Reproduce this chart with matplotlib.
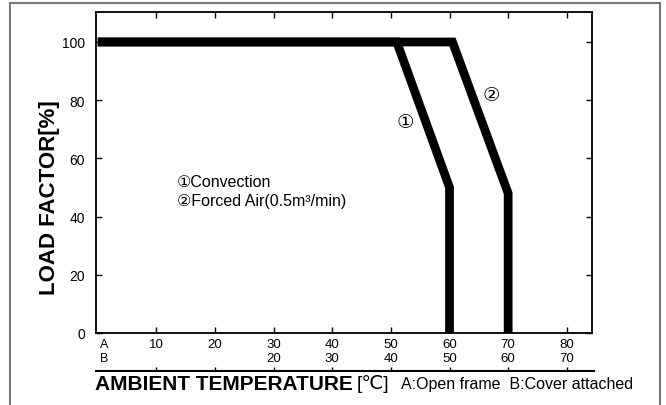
import matplotlib.pyplot as plt
from matplotlib.patches import Rectangle
from matplotlib.transforms import blended_transform_factory

# derating curves (ambient temp for A: open frame, load factor %)
conv_x = [0, 51, 60, 60]
conv_y = [100, 100, 50, 0]
forced_x = [0, 60.5, 70, 70]
forced_y = [100, 100, 48, 0]

a_ticks = [10, 20, 30, 40, 50, 60, 70, 80]
b_labels = ['', '', '20', '30', '40', '50', '60', '70']
y_ticks = [0, 20, 40, 60, 80, 100]

FONT = ['Liberation Sans', 'DejaVu Sans', 'Noto Sans CJK JP']

fig = plt.figure(figsize=(6.66, 4.06), dpi=100)
W, H = 666, 406
ax = fig.add_axes([96 / W, (H - 334) / H, (592 - 96) / W, (334 - 13) / H])

for xs, ys in [(conv_x, conv_y), (forced_x, forced_y)]:
    ax.plot(xs, ys, color='black', lw=6.3, solid_joinstyle='miter',
            solid_capstyle='butt')

ax.set_xlim(-0.3, 84.3)
ax.set_ylim(0, 110.3)
ax.set_yticks(y_ticks)
ax.set_yticklabels([str(v) for v in y_ticks], family=FONT, fontsize=10)
ax.set_xticks(a_ticks)
ax.set_xticklabels([])
ax.tick_params(direction='in', length=4, width=1, top=True, right=True,
               pad=8, colors='black')
for s in ax.spines.values():
    s.set_linewidth(1.3)

# two rows of temperature labels (A / B)
tr = blended_transform_factory(ax.transData, ax.transAxes)
row_a, row_b = -0.017, -0.058
ax.text(0.3, row_a, 'A', transform=tr, ha='left', va='top', fontsize=9, family=FONT)
ax.text(0.3, row_b, 'B', transform=tr, ha='left', va='top', fontsize=9, family=FONT)
for a, b in zip(a_ticks, b_labels):
    ax.text(a, row_a, str(a), transform=tr, ha='center', va='top', fontsize=9.5, family=FONT)
    if b:
        ax.text(a, row_b, b, transform=tr, ha='center', va='top', fontsize=9.5, family=FONT)

# second scale line under the labels
ax2 = fig.add_axes([96 / W, (H - 372) / H, (594 - 96) / W, 0.0001])
ax2.set_xlim(-0.3, 84.3 + 2 * 84.6 / 496)
ax2.set_xticks(a_ticks)
ax2.set_xticklabels([])
ax2.set_yticks([])
for k in ['top', 'left', 'right']:
    ax2.spines[k].set_visible(False)
ax2.spines['bottom'].set_linewidth(1.5)
ax2.tick_params(axis='x', direction='out', length=3, width=1, bottom=False, top=True)
ax2.patch.set_visible(False)

# notes and curve numbers
ax.text(13.5, 52.2, '①Convection', fontsize=11.5, family=FONT, va='center')
ax.text(13.5, 45.6, '②Forced Air(0.5m³/min)', fontsize=11.5, family=FONT, va='center')
ax.text(52.5, 72.5, '①', fontsize=14, family=FONT, ha='center', va='center')
ax.text(67.2, 81.5, '②', fontsize=14, family=FONT, ha='center', va='center')

fig.text(50 / W, 1 - 198 / H, 'LOAD FACTOR[%]', rotation=90, fontsize=16,
         fontweight='bold', family=FONT, ha='center', va='center')
fig.text(95 / W, 1 - 385 / H, 'AMBIENT TEMPERATURE', fontsize=15,
         fontweight='bold', family=FONT, ha='left', va='center')
fig.text(357 / W, 1 - 384 / H, '[℃]', fontsize=14, family=FONT, ha='left', va='center')
fig.text(401 / W, 1 - 385 / H, 'A:Open frame  B:Cover attached', fontsize=11.5,
         family=FONT, ha='left', va='center')

fig.patches.append(Rectangle((10 / W, -0.1), (660 - 10) / W, 1.1 - 4 / H,
                             transform=fig.transFigure, fill=False,
                             edgecolor='#777777', lw=1.5))

fig.savefig('out.png', dpi=100)
